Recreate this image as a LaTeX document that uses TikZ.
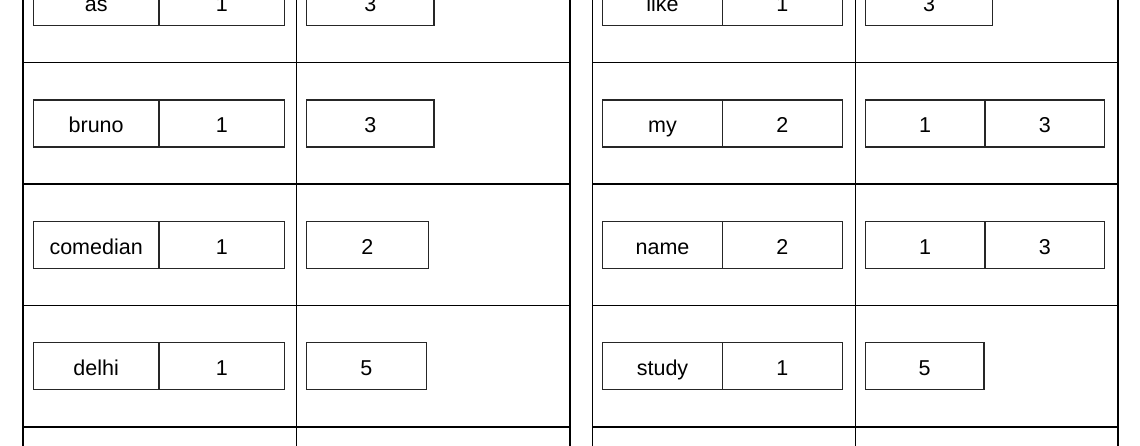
\documentclass[tikz,border=0pt]{standalone}
\usepackage{fontspec}
\setmainfont{Liberation Sans}
\usetikzlibrary{positioning}

\begin{document}
\begin{tikzpicture}[x=1pt, y=-1pt,
    cell/.style={draw=black!85, line width=1.2pt, minimum height=47pt, inner sep=0pt, outer sep=0pt,
                 text height=18.6pt, text depth=0pt, font=\fontsize{21.5pt}{26pt}\selectfont},
    lkey/.style={cell, minimum width=125.7pt},
    rkey/.style={cell, minimum width=119.7pt},
    frame/.style={line width=1.4pt}]
    \clip (0,0) rectangle (1140,445);

    % left table
    \draw[frame] (23,-59) -- (570,-59) (23,62.7) -- (570,62.7) (23,184.1) -- (570,184.1)
                 (23,305.5) -- (570,305.5) (23,426.9) -- (570,426.9);
    \draw[frame] (23,-10) -- (23,455) (296.5,-10) -- (296.5,455) (570,-10) -- (570,455);

    % right table
    \draw[frame] (592.5,-59) -- (1118,-59) (592.5,62.7) -- (1118,62.7) (592.5,184.1) -- (1118,184.1)
                 (592.5,305.5) -- (1118,305.5) (592.5,426.9) -- (1118,426.9);
    \draw[frame] (592.5,-10) -- (592.5,455) (855.5,-10) -- (855.5,455) (1118,-10) -- (1118,455);

    % left rows
    \node[lkey, anchor=west] (asw) at (33.3,2) {as};
    \node[lkey, right=0pt of asw] (asn) {1};
    \node[cell, minimum width=127.3pt, anchor=west] (asv) at (306.7,2) {3};

    \node[lkey, anchor=west] (brunow) at (33.3,123.4) {bruno};
    \node[lkey, right=0pt of brunow] (brunon) {1};
    \node[cell, minimum width=127.3pt, anchor=west] (brunov) at (306.7,123.4) {3};

    \node[lkey, anchor=west] (comedianw) at (33.3,244.8) {comedian};
    \node[lkey, right=0pt of comedianw] (comediann) {1};
    \node[cell, minimum width=121.5pt, anchor=west] (comedianv) at (306.7,244.8) {2};

    \node[lkey, anchor=west] (delhiw) at (33.3,366.2) {delhi};
    \node[lkey, right=0pt of delhiw] (delhin) {1};
    \node[cell, minimum width=119.5pt, anchor=west] (delhiv) at (306.7,366.2) {5};

    % right rows
    \node[rkey, anchor=west] (likew) at (602.7,2) {like};
    \node[rkey, right=0pt of likew] (liken) {1};
    \node[cell, minimum width=127.4pt, anchor=west] (likev) at (865.3,2) {3};

    \node[rkey, anchor=west] (myw) at (602.7,123.4) {my};
    \node[rkey, right=0pt of myw] (myn) {2};
    \node[rkey, anchor=west] (myva) at (865.3,123.4) {1};
    \node[rkey, right=0pt of myva] (myvb) {3};

    \node[rkey, anchor=west] (namew) at (602.7,244.8) {name};
    \node[rkey, right=0pt of namew] (namen) {2};
    \node[rkey, anchor=west] (nameva) at (865.3,244.8) {1};
    \node[rkey, right=0pt of nameva] (namevb) {3};

    \node[rkey, anchor=west] (studyw) at (602.7,366.2) {study};
    \node[rkey, right=0pt of studyw] (studyn) {1};
    \node[cell, minimum width=118.7pt, anchor=west] (studyv) at (865.3,366.2) {5};
\end{tikzpicture}
\end{document}
